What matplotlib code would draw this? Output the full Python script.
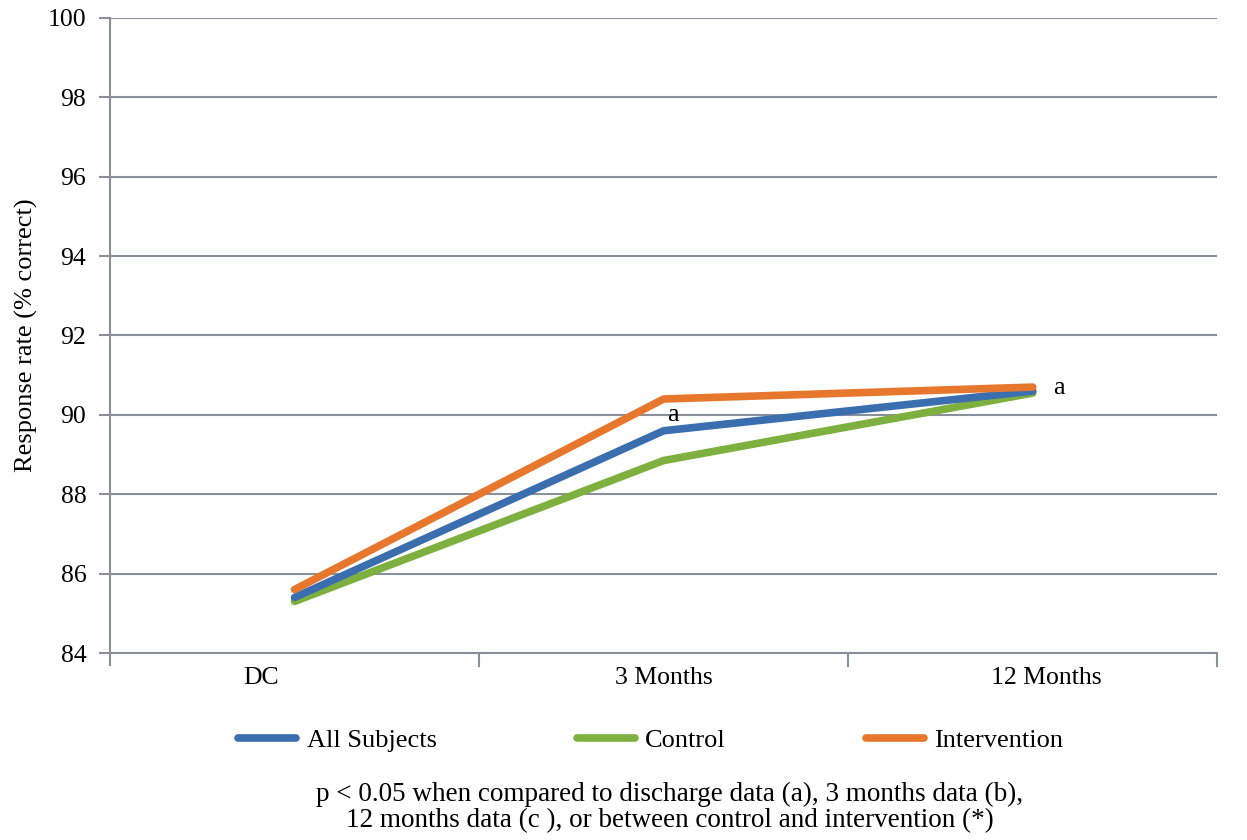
import matplotlib
matplotlib.use("Agg")
from matplotlib import pyplot as plt
from matplotlib.transforms import ScaledTranslation
from matplotlib.lines import Line2D

# data
categories = ['DC', '3 Months', '12 Months']
all_subjects = [85.4, 89.6, 90.6]
control = [85.3, 88.85, 90.55]
intervention = [85.6, 90.4, 90.7]
series_names = ['All Subjects', 'Control', 'Intervention']
sig_labels = ['a', 'a']
sig_cats = [1, 2]
sig_y = [90.0, 90.68]

plt.rcParams['font.family'] = ['Liberation Serif', 'DejaVu Serif']
fig = plt.figure(figsize=(12.47, 8.40), dpi=100)
ax = fig.add_axes([0.0882, 0.2226, 0.888, 0.7560])

grid_col = '#8a9099'
colors = ['#3b6eaf', '#7db03e', '#e8772e']
x = list(range(len(categories)))

# draw in order so orange sits on top like in the original
for vals, col in zip([control, all_subjects, intervention], [colors[1], colors[0], colors[2]]):
    ax.plot(x, vals, color=col, lw=5.5, solid_capstyle='round',
            solid_joinstyle='round', zorder=3)

sig_dx = [0.01, 0.055]
for s, xi, yi, dx in zip(sig_labels, sig_cats, sig_y, sig_dx):
    ax.text(xi + dx, yi, s, fontsize=19, ha='left', va='center', zorder=4)

ax.set_xlim(-0.5, 2.5)
ax.set_ylim(84, 100)
ax.set_yticks(range(84, 101, 2))
ax.yaxis.grid(True, color=grid_col, lw=1.5)
ax.set_axisbelow(True)
for s in ['top', 'right']:
    ax.spines[s].set_visible(False)
ax.spines['left'].set_color(grid_col)
ax.spines['left'].set_linewidth(1.5)
ax.spines['left'].set_bounds(83.7, 100)
ax.spines['bottom'].set_color(grid_col)
ax.spines['bottom'].set_linewidth(1.5)
ax.tick_params(axis='y', length=8, width=1.5, color=grid_col, labelsize=18.5, pad=9)

# category boundaries get the tick marks, labels sit in the middle
ax.set_xticks([0.5, 1.5, 2.5])
ax.set_xticklabels([])
ax.tick_params(axis='x', which='major', length=10, width=1.5, color=grid_col)
ax.set_xticks(x, minor=True)
ax.set_xticklabels(categories, minor=True)
ax.tick_params(axis='x', which='minor', length=0, labelsize=18.5, pad=10)
offsets = [-0.33, 0.0, 0.14]
for lab, dx in zip(ax.get_xticklabels(minor=True), offsets):
    lab.set_transform(lab.get_transform() + ScaledTranslation(dx, 0, fig.dpi_scale_trans))

ax.set_ylabel('Response rate (% correct)', fontsize=19, labelpad=7)

handles = [Line2D([0], [0], color=c, lw=5.5, solid_capstyle='round') for c in colors]
fig.legend(handles, series_names, loc='center', bbox_to_anchor=(0.522, 0.119),
           ncol=3, frameon=False, fontsize=19, handlelength=2.2,
           handletextpad=0.4, columnspacing=5.3)

fig.text(0.537, 0.039,
         'p < 0.05 when compared to discharge data (a), 3 months data (b),\n'
         '12 months data (c ), or between control and intervention (*)',
         ha='center', va='center', fontsize=19.5, linespacing=1.05)

fig.savefig('out.png', dpi=100)
